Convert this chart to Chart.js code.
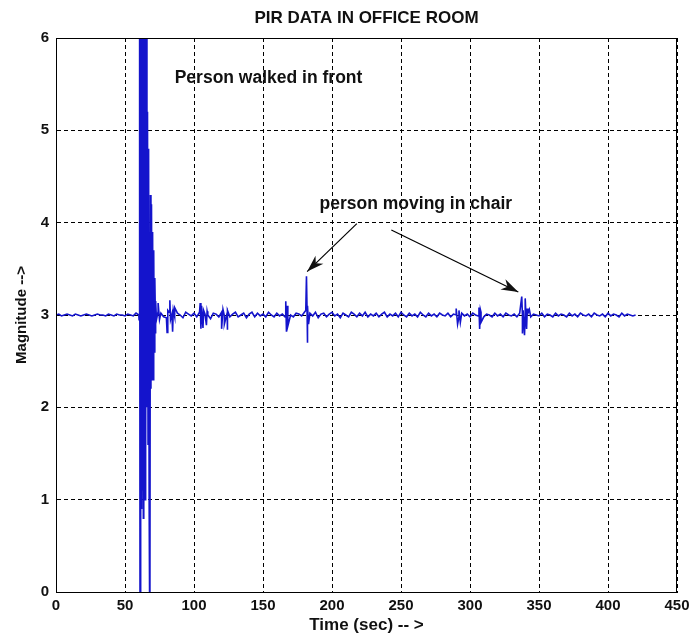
<!DOCTYPE html>
<html>
<head>
<meta charset="utf-8">
<title>PIR data in office room</title>
<script src="https://cdn.jsdelivr.net/npm/chart.js@4.4.1/dist/chart.umd.min.js"></script>
<style>
  html, body { margin: 0; padding: 0; background: #fff; }
  #wrap { width: 691px; height: 637px; position: relative; }
</style>
</head>
<body>
<div id="wrap"><canvas id="pirChart"></canvas></div>
<script>
// ----- Data -----
// quiet baseline, sampled every 2 s from 0 to 420 s
const baseStep = 2;
const baseMag = [
  3.00, 3.01, 2.99, 3.00, 3.01, 3.00, 2.99, 3.01, 3.00, 2.99,
  3.00, 3.01, 3.00, 2.99, 3.00, 3.01, 3.00, 3.00, 2.99, 3.01,
  3.00, 2.99, 3.01, 3.00, 3.00, 2.99, 3.01, 3.00, 2.99, 3.02,
  3.00, 3.00, 3.00, 3.00, 3.00, 3.00, 3.00, 3.04, 3.02, 2.98,
  2.97, 3.03, 3.01, 2.98, 3.02, 3.00, 2.97, 3.03, 3.01, 2.99,
  3.02, 2.98, 3.03, 2.97, 3.01, 3.00, 2.96, 3.02, 3.01, 2.98,
  3.03, 2.99, 3.02, 2.98, 3.01, 3.03, 2.98, 3.00, 3.02, 2.97,
  3.01, 3.03, 2.98, 3.02, 2.99, 3.01, 2.98, 3.03, 3.00, 2.98,
  3.02, 2.99, 3.01, 2.98, 3.03, 3.00, 2.98, 3.02, 3.01, 2.99,
  3.03, 2.98, 3.02, 2.99, 3.03, 2.97, 3.01, 3.02, 2.98, 3.01,
  3.03, 2.99, 3.01, 2.97, 3.02, 3.00, 2.98, 3.03, 3.01, 2.98,
  3.02, 2.99, 3.03, 2.98, 3.01, 2.99, 3.02, 2.98, 3.01, 3.03,
  2.98, 3.01, 2.99, 3.02, 2.98, 3.03, 3.00, 2.98, 3.02, 2.99,
  3.01, 2.98, 3.03, 3.00, 2.98, 3.02, 2.99, 3.01, 2.98, 3.02,
  3.00, 2.99, 3.02, 2.98, 3.01, 3.00, 2.98, 3.02, 2.99, 3.01,
  2.98, 3.02, 3.00, 2.99, 3.03, 2.98, 3.01, 3.00, 2.98, 3.02,
  2.99, 3.01, 2.98, 3.02, 3.00, 2.99, 3.01, 2.98, 3.02, 3.00,
  2.99, 3.02, 2.98, 3.01, 3.00, 2.99, 3.02, 2.98, 3.01, 3.00,
  2.98, 3.02, 2.99, 3.01, 3.00, 2.98, 3.02, 2.99, 3.01, 2.98,
  3.02, 3.00, 2.99, 3.01, 2.98, 3.02, 3.00, 2.99, 3.01, 2.98,
  3.02, 2.99, 3.01, 3.00, 2.98, 3.02, 2.99, 3.01, 3.00, 2.99,
  3.00
];

// person walking in front of the sensor (60-73 s)
const walkTime = [60.2, 60.6, 60.9, 61.2, 61.5, 61.8, 62.1, 62.4, 62.7, 63.0, 63.3, 63.6,
  63.9, 64.2, 64.5, 64.8, 65.1, 65.5, 65.9, 66.3, 66.7, 67.1, 67.5, 68.0, 68.4, 68.8,
  69.2, 69.6, 70.0, 70.4, 70.8, 71.2, 71.6, 72.0, 72.4, 72.8];
const walkMag = [2.95, 6.6, -0.6, 6.6, 0.7, 6.6, 0.9, 6.6, 1.1, 6.6, 0.8, 6.6,
  1.2, 6.6, 1.0, 6.0, 1.5, 6.6, 2.0, 5.2, 1.6, 4.8, 1.0, -0.6, 4.3, 2.2,
  4.2, 2.3, 3.9, 2.3, 3.7, 2.6, 3.4, 2.8, 3.15, 2.95];

// small disturbances (person moving in chair etc.)
const burstTime = [74, 75, 80.5, 81, 82.5, 83, 84.5, 85, 86,
  104.5, 105, 105.5, 106.5, 107, 109, 109.5,
  120, 121, 122, 124, 124.5,
  166.5, 167, 167.5, 168,
  181, 181.5, 182, 182.5, 183,
  290, 291, 292, 293,
  306.5, 307, 307.5, 308,
  337.5, 338, 338.5, 339.5, 340, 341, 341.5, 343];
const burstMag = [3.13, 2.95, 2.81, 3.05, 3.16, 2.95, 2.82, 3.05, 3.08,
  3.13, 2.85, 3.10, 2.86, 3.05, 2.89, 3.04,
  2.85, 3.06, 2.90, 2.84, 3.05,
  3.15, 2.82, 3.10, 2.88,
  3.05, 3.42, 2.70, 3.10, 2.90,
  3.07, 2.90, 3.05, 2.92,
  3.08, 2.85, 3.06, 2.92,
  3.20, 2.80, 3.05, 2.78, 3.18, 2.85, 3.07, 3.06];

const xTicks = [0, 50, 100, 150, 200, 250, 300, 350, 400, 450];
const yTicks = [0, 1, 2, 3, 4, 5, 6];

// annotations (data coordinates)
const titleText = 'PIR DATA IN OFFICE ROOM';
const noteText = ['Person walked in front', 'person moving in chair'];
const noteX = [86, 191];
const noteY = [5.57, 4.2];
const arrowFrom = [[218, 3.99], [243, 3.92]];
const arrowTo = [[182, 3.47], [335, 3.25]];

const FONT = '"Liberation Sans", Arial, Helvetica, sans-serif';

// ----- Build series -----
function buildSeries() {
  const pts = baseMag.map((v, i) => ({ x: i * baseStep, y: v }));
  walkTime.forEach((t, i) => pts.push({ x: t, y: walkMag[i] }));
  burstTime.forEach((t, i) => pts.push({ x: t, y: burstMag[i] }));
  return pts.sort((a, b) => a.x - b.x);
}

// ----- Plugins -----
const boxAndNotes = {
  id: 'boxAndNotes',
  afterDatasetsDraw(chart) {
    const { ctx, chartArea: a, scales: { x, y } } = chart;
    ctx.save();
    ctx.strokeStyle = '#000';
    ctx.lineWidth = 1;
    ctx.strokeRect(a.left + 0.5, a.top + 0.5, a.right - a.left - 1, a.bottom - a.top);

    // title, centred over the axes box
    ctx.fillStyle = '#111';
    ctx.font = `bold 17px ${FONT}`;
    ctx.textAlign = 'center';
    ctx.textBaseline = 'middle';
    ctx.fillText(titleText, (a.left + a.right) / 2, 18);

    ctx.font = `bold 17.5px ${FONT}`;
    ctx.textAlign = 'left';
    noteText.forEach((s, i) => ctx.fillText(s, x.getPixelForValue(noteX[i]), y.getPixelForValue(noteY[i])));

    arrowFrom.forEach((f, i) => {
      const x1 = x.getPixelForValue(f[0]), y1 = y.getPixelForValue(f[1]);
      const x2 = x.getPixelForValue(arrowTo[i][0]), y2 = y.getPixelForValue(arrowTo[i][1]);
      const ang = Math.atan2(y2 - y1, x2 - x1);
      ctx.beginPath();
      ctx.moveTo(x1, y1);
      ctx.lineTo(x2, y2);
      ctx.lineWidth = 1.2;
      ctx.stroke();
      ctx.beginPath();
      ctx.moveTo(x2, y2);
      ctx.lineTo(x2 - 18 * Math.cos(ang - 0.32), y2 - 18 * Math.sin(ang - 0.32));
      ctx.lineTo(x2 - 12 * Math.cos(ang), y2 - 12 * Math.sin(ang));
      ctx.lineTo(x2 - 18 * Math.cos(ang + 0.32), y2 - 18 * Math.sin(ang + 0.32));
      ctx.closePath();
      ctx.fill();
    });
    ctx.restore();
  }
};

// ----- Chart -----
new Chart(document.getElementById('pirChart'), {
  type: 'line',
  data: {
    datasets: [{
      label: 'PIR',
      data: buildSeries(),
      borderColor: '#1414cc',
      borderWidth: 1.6,
      pointRadius: 0,
      tension: 0,
    }],
  },
  options: {
    responsive: true,
    maintainAspectRatio: false,
    animation: false,
    layout: { padding: { top: 38, right: 0, left: 0, bottom: 0 } },
    plugins: {
      legend: { display: false },
      tooltip: { enabled: false },
      title: { display: false },
    },
    scales: {
      x: {
        type: 'linear',
        min: 0, max: 450,
        afterBuildTicks: s => { s.ticks = xTicks.map(v => ({ value: v })); },
        afterFit: s => { s.height = 45; s.paddingRight = 14; },
        grid: { color: '#000', lineWidth: 1, drawTicks: false },
        border: { display: true, color: '#000', dash: [4, 3] },
        ticks: { color: '#111', padding: 5, maxRotation: 0, font: { family: FONT, size: 15, weight: 'bold' } },
        title: {
          display: true, text: 'Time (sec) -- >', color: '#111',
          font: { family: FONT, size: 17, weight: 'bold' }, padding: { top: 0, bottom: 1 },
        },
      },
      y: {
        min: 0, max: 6,
        afterBuildTicks: s => { s.ticks = yTicks.map(v => ({ value: v })); },
        afterFit: s => { s.width = 56; },
        grid: { color: '#000', lineWidth: 1, drawTicks: false },
        border: { display: true, color: '#000', dash: [4, 3] },
        ticks: { color: '#111', padding: 7, font: { family: FONT, size: 15, weight: 'bold' } },
        title: {
          display: true, text: 'Magnitude -->', color: '#111',
          font: { family: FONT, size: 15, weight: 'bold' }, padding: { top: 13, bottom: 0 },
        },
      },
    },
  },
  plugins: [boxAndNotes],
});
</script>
</body>
</html>
